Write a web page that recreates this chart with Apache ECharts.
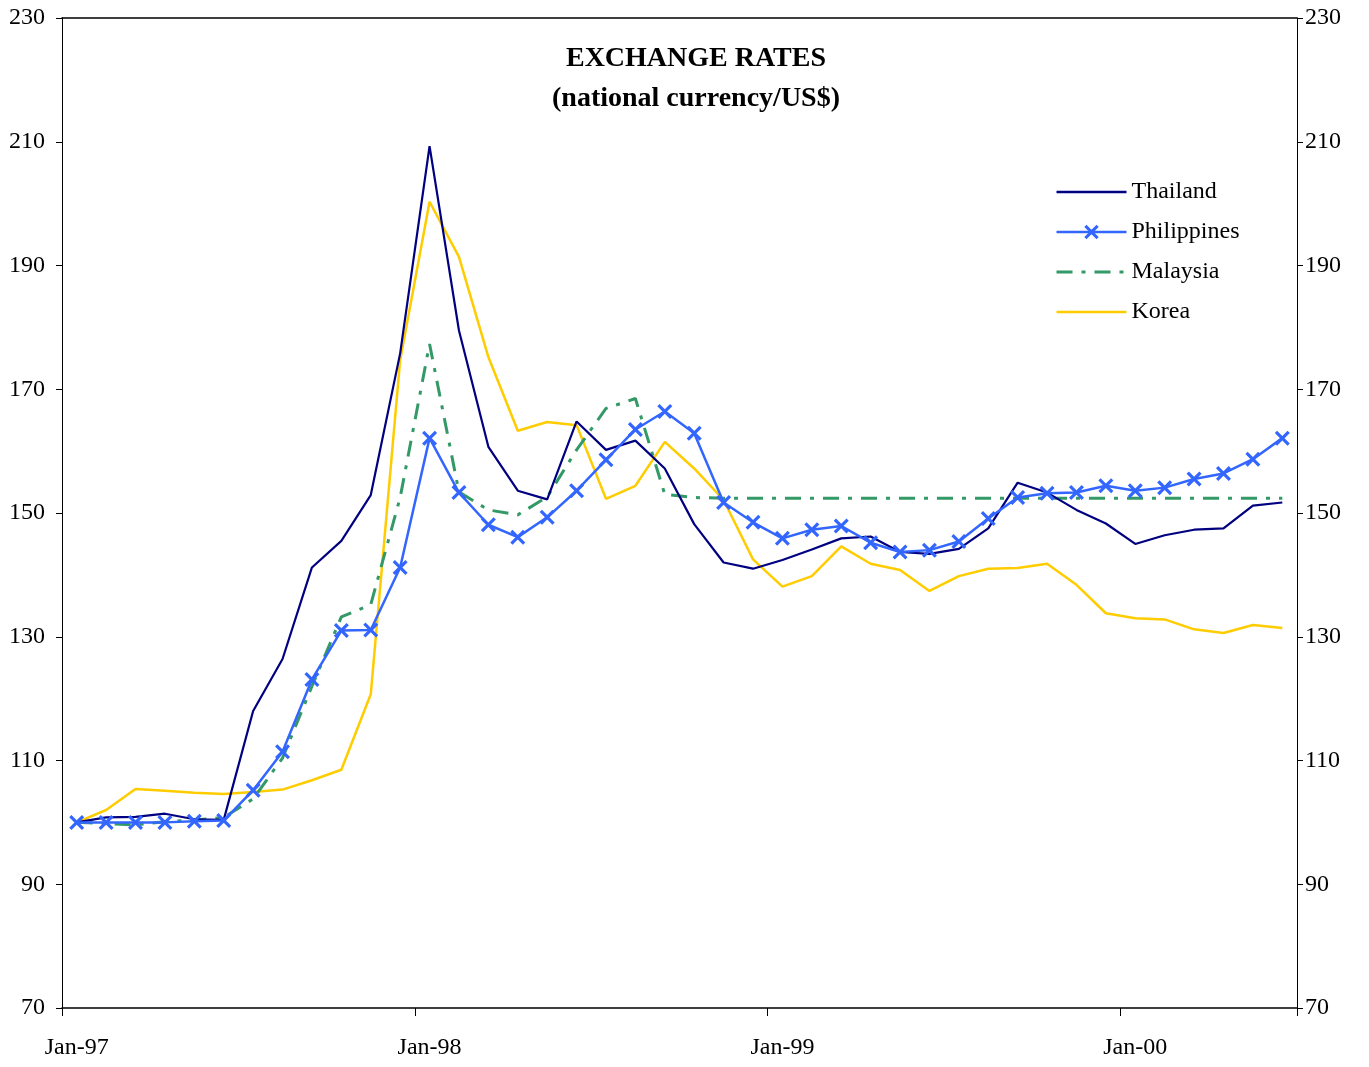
<!DOCTYPE html>
<html>
<head>
<meta charset="utf-8">
<script src="https://cdn.jsdelivr.net/npm/echarts@6/dist/echarts.min.js"></script>
<style>
html,body{margin:0;padding:0;background:#fff;}
#chart{width:1369px;height:1067px;}
</style>
</head>
<body>
<div id="chart"></div>
<script>
var categories = [
  'Jan-97','Feb-97','Mar-97','Apr-97','May-97','Jun-97','Jul-97','Aug-97','Sep-97','Oct-97','Nov-97','Dec-97',
  'Jan-98','Feb-98','Mar-98','Apr-98','May-98','Jun-98','Jul-98','Aug-98','Sep-98','Oct-98','Nov-98','Dec-98',
  'Jan-99','Feb-99','Mar-99','Apr-99','May-99','Jun-99','Jul-99','Aug-99','Sep-99','Oct-99','Nov-99','Dec-99',
  'Jan-00','Feb-00','Mar-00','Apr-00','May-00','Jun-00'
];
var thailand = [
  100, 100.8, 100.9, 101.4, 100.5, 100.4, 118.0, 126.4, 141.2, 145.5, 152.9, 175.8,
  209.3, 179.5, 160.7, 153.6, 152.2, 164.8, 160.2, 161.7, 157.2, 148.2, 142.0, 141.0,
  142.4, 144.1, 145.9, 146.2, 143.7, 143.4, 144.2, 147.5, 154.9, 153.3, 150.5, 148.3,
  145.0, 146.4, 147.3, 147.5, 151.2, 151.7
];
var philippines = [
  100, 100, 100, 100, 100.2, 100.3, 105.2, 111.4, 123.1, 131.0, 131.1, 141.2,
  162.1, 153.3, 148.1, 146.1, 149.3, 153.6, 158.6, 163.5, 166.4, 162.9, 151.7, 148.5,
  145.9, 147.3, 147.9, 145.2, 143.7, 144.0, 145.4, 149.1, 152.5, 153.2, 153.3, 154.4,
  153.6, 154.1, 155.5, 156.4, 158.7, 162.1
];
var malaysia = [
  100, 99.8, 99.6, 100.1, 100.4, 100.8, 103.8, 110.4, 122.0, 133.2, 135.2, 152.5,
  177.3, 153.4, 150.5, 149.7, 152.6, 160.2, 166.9, 168.5, 153.0, 152.5, 152.4, 152.4,
  152.4, 152.4, 152.4, 152.4, 152.4, 152.4, 152.4, 152.4, 152.4, 152.4, 152.4, 152.4,
  152.4, 152.4, 152.4, 152.4, 152.4, 152.4
];
var korea = [
  100, 102.0, 105.4, 105.1, 104.8, 104.6, 104.9, 105.3, 106.8, 108.5, 120.7, 174.7,
  200.3, 191.4, 175.2, 163.3, 164.7, 164.2, 152.3, 154.4, 161.5, 157.2, 152.1, 142.5,
  138.1, 139.8, 144.6, 141.8, 140.8, 137.4, 139.8, 141.0, 141.1, 141.8, 138.4, 133.8,
  133.0, 132.8, 131.2, 130.6, 131.9, 131.4
];
var yTicks = { min: 70, max: 230, interval: 20 };
var titleLines = ['EXCHANGE RATES', '(national currency/US$)'];

var FONT = "'Liberation Serif', 'Times New Roman', serif";
var xMark = 'path://M0,1.5L1.5,0L5,3.5L8.5,0L10,1.5L6.5,5L10,8.5L8.5,10L5,6.5L1.5,10L0,8.5L3.5,5Z';

var chart = echarts.init(document.getElementById('chart'), null, { renderer: 'canvas' });
var yAxisCommon = {
  type: 'value', min: yTicks.min, max: yTicks.max, interval: yTicks.interval,
  splitLine: { show: false },
  axisLine: { show: true, lineStyle: { color: '#000', width: 1 } },
  axisTick: { show: true, inside: false, length: 6, lineStyle: { color: '#000' } }
};
var hiddenSym = { opacity: 0 };
chart.setOption({
  animation: false,
  backgroundColor: '#fff',
  grid: { left: 62, right: 72, top: 18, bottom: 59, containLabel: false },
  graphic: [
    { type: 'text', x: 696, y: 59, style: { text: titleLines[0], font: 'bold 28px ' + FONT, fill: '#000', align: 'center', verticalAlign: 'middle' } },
    { type: 'text', x: 696, y: 99, style: { text: titleLines[1], font: 'bold 28px ' + FONT, fill: '#000', align: 'center', verticalAlign: 'middle' } }
  ],
  legend: {
    orient: 'vertical', left: 1055, top: 180, padding: 0,
    itemWidth: 70, itemHeight: 18, itemGap: 16,
    textStyle: { fontFamily: FONT, fontSize: 24, color: '#000', lineHeight: 24 },
    data: [
      { name: 'Thailand', itemStyle: hiddenSym, lineStyle: { width: 2.5 } },
      { name: 'Philippines', lineStyle: { width: 2.5 } },
      { name: 'Malaysia', itemStyle: hiddenSym, lineStyle: { width: 3 } },
      { name: 'Korea', itemStyle: hiddenSym, lineStyle: { width: 2.5 } }
    ]
  },
  xAxis: [
    {
      type: 'category', data: categories, boundaryGap: true, position: 'bottom',
      axisLine: { show: true, onZero: false, lineStyle: { color: '#000', width: 1.5 } },
      axisTick: { show: true, interval: 11, alignWithLabel: false, length: 8, lineStyle: { color: '#000' } },
      axisLabel: { interval: 11, margin: 28, fontFamily: FONT, fontSize: 24, color: '#000' },
      splitLine: { show: false }
    },
    {
      type: 'category', data: categories, boundaryGap: true, position: 'top',
      axisLine: { show: true, onZero: false, lineStyle: { color: '#000', width: 1.5 } },
      axisTick: { show: false }, axisLabel: { show: false }, splitLine: { show: false }
    }
  ],
  yAxis: [
    Object.assign({}, yAxisCommon, { position: 'left', axisLabel: { margin: 17, fontFamily: FONT, fontSize: 24, color: '#000' } }),
    Object.assign({}, yAxisCommon, { position: 'right', axisLabel: { margin: 8, fontFamily: FONT, fontSize: 24, color: '#000' } })
  ],
  series: [
    { name: 'Thailand', type: 'line', data: thailand, symbol: 'none', showSymbol: false,
      lineStyle: { color: '#000080', width: 2.2 }, itemStyle: { color: '#000080' }, z: 4 },
    { name: 'Philippines', type: 'line', data: philippines, symbol: xMark, symbolSize: 15, showSymbol: true,
      lineStyle: { color: '#3366FF', width: 2.5 }, itemStyle: { color: '#3366FF' }, z: 5 },
    { name: 'Malaysia', type: 'line', data: malaysia, symbol: 'none', showSymbol: false,
      lineStyle: { color: '#339966', width: 3, type: [16, 9, 4, 9] }, itemStyle: { color: '#339966' }, z: 3 },
    { name: 'Korea', type: 'line', data: korea, symbol: 'none', showSymbol: false,
      lineStyle: { color: '#FFCC00', width: 2.5 }, itemStyle: { color: '#FFCC00' }, z: 2 }
  ]
});
</script>
</body>
</html>
